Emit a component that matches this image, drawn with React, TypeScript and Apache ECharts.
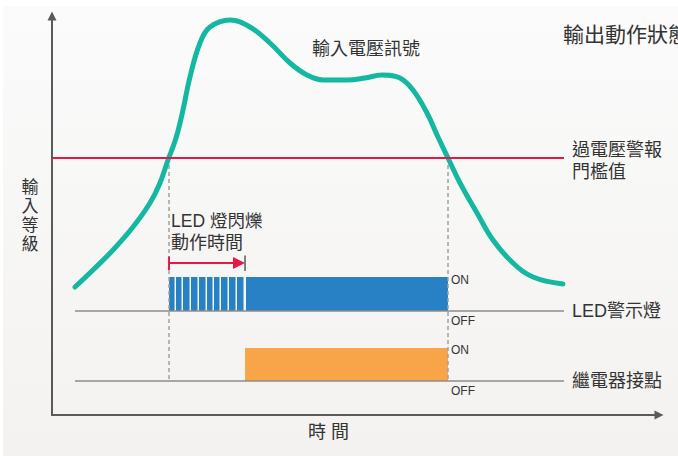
import React, { useEffect, useRef } from "react";
import * as echarts from "echarts";

// Input voltage signal (time 0-100, level 0-100)
const signalTime = [3.79, 6.75, 10.05, 13.34, 16.14, 17.79, 19.11, 20.43, 21.58, 22.73, 24.38, 26.03, 29.32, 32.62, 35.91, 39.21, 42.01, 44.65, 48.6, 51.57, 54.37, 57.33, 59.47, 61.78, 63.59, 65.24, 67.22, 70.02, 72.65, 75.95, 79.24, 84.18];
const signalLevel = [32.08, 36.34, 41.35, 47.12, 53.13, 58.15, 63.91, 69.42, 76.44, 84.71, 93.23, 97.24, 99.0, 97.24, 93.23, 88.22, 85.21, 83.96, 83.96, 84.46, 85.21, 84.46, 81.45, 75.69, 69.67, 64.41, 58.15, 50.63, 43.86, 38.1, 34.59, 32.83];

const thresholdLevel = 64.41;
const lineSpan = [0, 84.35];
const rowSpan = [3.79, 84.35];
const crossTimes = [19.28, 65.24];

const ledRow = { base: 26.07, top: 34.59 };
const relayRow = { base: 8.52, top: 16.79 };
const ledFlashEdges = [19.28, 20.43, 21.58, 22.9, 24.22, 25.54, 26.69, 27.84, 29.16, 30.48, 31.8];
const ledSolid = [31.96, 65.24];
const relayOn = [31.8, 65.24];
const arrowLevel = 38.1;

const FONT = '"Liberation Sans", "Noto Sans CJK TC", sans-serif';
const TXT = "#333333";

function txt(text: string, x: number, y: number, size: number, align = "left") {
  return {
    type: "text",
    x,
    y,
    z: 50,
    style: {
      text,
      fill: TXT,
      fontSize: size,
      fontFamily: FONT,
      align,
      verticalAlign: "middle",
      textAlign: align,
      textVerticalAlign: "middle",
    },
  };
}

export default function App() {
  const ref = useRef<HTMLDivElement>(null);
  useEffect(() => {
    if (!ref.current) return;
    const chart = echarts.init(ref.current, undefined, { renderer: "svg" });

    const flashData = [] as number[][];
    for (let i = 0; i < ledFlashEdges.length - 1; i++) {
      flashData.push([ledFlashEdges[i], ledFlashEdges[i + 1], ledRow.base, ledRow.top, 1.5]);
    }
    const ledData = [...flashData, [ledSolid[0], ledSolid[1], ledRow.base, ledRow.top, 0]];
    const relayData = [[relayOn[0], relayOn[1], relayRow.base, relayRow.top, 0]];

    const rectRender = (color: string) => (params: any, api: any) => {
      const p0 = api.coord([api.value(0), api.value(3)]);
      const p1 = api.coord([api.value(1), api.value(2)]);
      return {
        type: "rect",
        shape: { x: p0[0], y: p0[1], width: p1[0] - p0[0] - api.value(4), height: p1[1] - p0[1] },
        style: { fill: color },
      };
    };

    const axisCommon = {
      type: "value",
      min: 0,
      max: 100,
      splitLine: { show: false },
      axisTick: { show: false },
      axisLabel: { show: false },
      axisLine: {
        show: true,
        onZero: false,
        symbol: ["none", "triangle"],
        symbolSize: [9, 9],
        lineStyle: { color: "#5a5a5a", width: 2 },
      },
    };

    chart.setOption({
      animation: false,
      backgroundColor: "#ffffff",
      grid: { left: 52, right: 19, top: 16, bottom: 41 },
      xAxis: axisCommon,
      yAxis: axisCommon,
      graphic: [
        {
          type: "rect",
          z: -10,
          silent: true,
          shape: { x: 3, y: 6, width: 675, height: 450 },
          style: {
            fill: new echarts.graphic.LinearGradient(0, 0, 0, 1, [
              { offset: 0, color: "#fbfbfb" },
              { offset: 1, color: "#f3f2f0" },
            ]),
          },
        },
        txt("輸入電壓訊號", 312, 49, 18),
        txt("輸出動作狀態", 563, 34, 21),
        txt("過電壓警報", 572, 150, 18),
        txt("門檻值", 572, 172, 18),
        txt("LED 燈閃爍", 171, 221, 17.5),
        txt("動作時間", 171, 243, 18),
        txt("ON", 451, 280, 12),
        txt("OFF", 451, 321, 12),
        txt("ON", 451, 350, 12),
        txt("OFF", 451, 391, 12),
        txt("LED警示燈", 572, 311, 18),
        txt("繼電器接點", 572, 381, 18),
        txt("時 間", 308, 432, 18),
        {
          type: "text",
          x: 30,
          y: 216,
          z: 50,
          style: {
            text: "輸\n入\n等\n級",
            fill: TXT,
            fontSize: 17,
            lineHeight: 19,
            fontFamily: FONT,
            align: "center",
            verticalAlign: "middle",
            textAlign: "center",
            textVerticalAlign: "middle",
          },
        },
      ],
      series: [
        {
          type: "custom",
          name: "led",
          z: 3,
          renderItem: rectRender("#2880c5"),
          data: ledData,
          silent: true,
        },
        {
          type: "custom",
          name: "relay",
          z: 3,
          renderItem: rectRender("#f8a54a"),
          data: relayData,
          silent: true,
        },
        ...[ledRow.base, relayRow.base].map((b) => ({
          type: "line",
          z: 4,
          silent: true,
          showSymbol: false,
          lineStyle: { color: "#8c8c8c", width: 1.5 },
          data: [
            [rowSpan[0], b],
            [rowSpan[1], b],
          ],
        })),
        ...crossTimes.map((t) => ({
          type: "line",
          z: 4,
          silent: true,
          showSymbol: false,
          lineStyle: { color: "#a0a0a0", width: 1.5, type: [4, 3] },
          data: [
            [t, thresholdLevel],
            [t, relayRow.base],
          ],
        })),
        {
          type: "line",
          z: 5,
          silent: true,
          smooth: 0.4,
          showSymbol: false,
          lineStyle: { color: "#14b8a0", width: 5, cap: "round" },
          data: signalTime.map((t, i) => [t, signalLevel[i]]),
        },
        {
          type: "line",
          z: 6,
          silent: true,
          showSymbol: false,
          lineStyle: { color: "#e8174a", width: 2 },
          data: [
            [lineSpan[0], thresholdLevel],
            [lineSpan[1], thresholdLevel],
          ],
        },
        {
          type: "custom",
          z: 7,
          silent: true,
          data: [[ledFlashEdges[0], ledFlashEdges[ledFlashEdges.length - 1], arrowLevel]],
          renderItem: (params: any, api: any) => {
            const a = api.coord([api.value(0), api.value(2)]);
            const b = api.coord([api.value(1), api.value(2)]);
            const head = 12;
            return {
              type: "group",
              children: [
                {
                  type: "line",
                  shape: { x1: a[0], y1: a[1], x2: b[0] - head + 1, y2: b[1] },
                  style: { stroke: "#e8174a", lineWidth: 2 },
                },
                {
                  type: "line",
                  shape: { x1: a[0], y1: a[1] - 6.5, x2: a[0], y2: a[1] + 7 },
                  style: { stroke: "#e8174a", lineWidth: 2 },
                },
                {
                  type: "polygon",
                  shape: { points: [[b[0] - head, b[1] - 6], [b[0], b[1]], [b[0] - head, b[1] + 6]] },
                  style: { fill: "#e8174a" },
                },
                {
                  type: "line",
                  shape: { x1: b[0], y1: b[1] - 7.5, x2: b[0], y2: b[1] + 8 },
                  style: { stroke: "#333333", lineWidth: 1.2 },
                },
              ],
            };
          },
        },
      ],
    });
    return () => chart.dispose();
  }, []);
  return <div ref={ref} style={{ position: "fixed", left: 0, top: 0, width: 678, height: 456 }} />;
}
